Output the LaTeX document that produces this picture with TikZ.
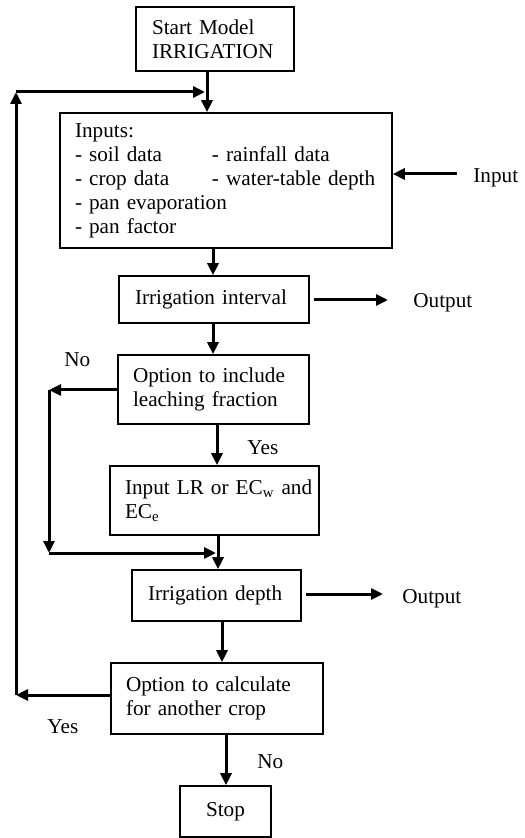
\documentclass[tikz,border=0pt]{standalone}
\usepackage{fontspec}
\setmainfont{Liberation Serif}
\usetikzlibrary{arrows.meta}
\newcommand{\fs}{\fontsize{10.6}{12}\selectfont}
\begin{document}
\begin{tikzpicture}[x=0.5pt,y=-0.5pt,
  box/.style={draw, line width=0.8pt, inner ysep=0pt, align=left, font=\fs},
  arr/.style={line width=1.5pt, -{Triangle[length=6pt,width=5.5pt]}},
  lbl/.style={anchor=base west, inner sep=0pt, font=\fs}]
\useasboundingbox (0,0) rectangle (524,838);
% boxes
\node[box, minimum height=32pt, inner xsep=8pt, text width=63pt] (start) at (215,39) {Start Model\\IRRIGATION};
\node[box, minimum height=67.5pt, inner xsep=7.5pt, text width=151pt] (inputs) at (226,180.5)
  {Inputs:\\\makebox[68.5pt][l]{- soil data}- rainfall data\\\makebox[68.5pt][l]{- crop data}- water-table depth\\- pan evaporation\\- pan factor};
\node[box, minimum height=23.5pt, inner xsep=8pt, text width=79pt] (interval) at (214,299.5) {Irrigation interval};
\node[box, minimum height=34.5pt, inner xsep=7.5pt, text width=80.5pt] (option1) at (213.5,389.5) {\mbox{Option to include}\\\mbox{leaching fraction}};
\node[box, minimum height=34.5pt, inner xsep=7.5pt, text width=89.5pt] (lr) at (214.5,500.5) {\mbox{Input LR or EC\textsubscript{w} and}\\EC\textsubscript{e}};
\node[box, minimum height=25.5pt, inner xsep=8pt, text width=68.5pt] (depth) at (216.5,595.5) {\mbox{Irrigation depth}};
\node[box, minimum height=35.5pt, inner xsep=7.5pt, text width=91pt] (option2) at (217,698.5) {\mbox{Option to calculate}\\\mbox{for another crop}};
\node[box, minimum height=25.5pt, inner xsep=4pt, text width=37.5pt, align=center] (stop) at (225.5,811.5) {Stop};
% labels
\node[lbl] (linput) at (473,183) {Input};
\node[lbl] (lout1) at (413,308) {Output};
\node[lbl] (lout2) at (402,603) {Output};
\node[lbl] (lno1) at (64,367) {No};
\node[lbl] (lyes1) at (247,454) {Yes};
\node[lbl] (lyes2) at (47,733) {Yes};
\node[lbl] (lno2) at (257,768) {No};
% column coordinates
\coordinate (xa) at (207,0);
\coordinate (xb) at (213,0);
\coordinate (xc) at (217,0);
\coordinate (xd) at (218,0);
\coordinate (xe) at (222,0);
\coordinate (xf) at (226,0);
% main flow
\draw[arr] (start.south -| xa) -- (inputs.north -| xa);
\draw[arr] (inputs.south -| xb) -- (interval.north -| xb);
\draw[arr] (interval.south -| xb) -- (option1.north -| xb);
\draw[arr] (option1.south -| xc) -- (lr.north -| xc);
\draw[arr] (lr.south -| xd) -- (depth.north -| xd);
\draw[arr] (depth.south -| xe) -- (option2.north -| xe);
\draw[arr] (option2.south -| xf) -- (stop.north -| xf);
% input / outputs
\coordinate (inS) at (457,174);
\draw[arr] (inS) -- (inS -| inputs.east);
\coordinate (o1E) at (388,300);
\draw[arr, shorten <=2pt] (o1E -| interval.east) -- (o1E);
\coordinate (o2E) at (383,594);
\draw[arr, shorten <=2pt] (o2E -| depth.east) -- (o2E);
% no loop (leaching)
\coordinate (nlA) at (49,390);
\coordinate (nlB) at (49,553);
\coordinate (nlE) at (216,553);
\draw[arr] (nlA -| option1.west) -- (nlA);
\draw[arr] (nlA) -- (nlB);
\draw[arr] (nlB) -- (nlE);
% feedback loop
\coordinate (fbB) at (16,695);
\coordinate (fbT) at (16,92);
\coordinate (fbE) at (205,92);
\draw[arr] (fbB -| option2.west) -- (fbB);
\draw[arr] (fbB) -- (fbT);
\draw[arr] (fbT) -- (fbE);
\end{tikzpicture}
\end{document}
